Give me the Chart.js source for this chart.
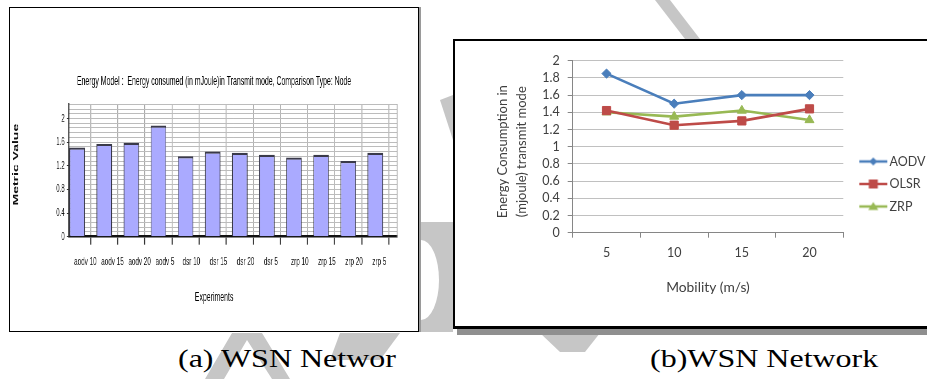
<!DOCTYPE html>
<html><head><meta charset="utf-8">
<script src="https://cdn.jsdelivr.net/npm/chart.js@4.4.1/dist/chart.umd.min.js"></script>
<style>
html,body{margin:0;padding:0;background:#fff;width:927px;height:379px;overflow:hidden;}
body{position:relative;}
.wm{position:absolute;left:0;top:0;width:927px;height:379px;background:#c6c6c6;}
#wmBox{position:absolute;left:421px;top:222px;width:32px;height:110px;background:#c6c6c6;overflow:hidden;}
#wmHole{position:absolute;left:-18px;top:18px;width:36px;height:80px;border-radius:50%;background:#fff;}
#frameA{position:absolute;left:9px;top:7px;width:408px;height:323px;border:1px solid #000;background:#fff;box-shadow:2px 0 0 #9a9a9a;overflow:hidden;}
#wrapA{position:absolute;left:0;top:0;width:742px;height:323px;transform:scaleX(0.55);transform-origin:0 0;}
#frameB{position:absolute;left:453px;top:39px;width:520px;height:285px;border-style:solid;border-color:#000;border-width:2px 2px 3px 2px;background:#fff;box-shadow:4px 6px 0 #8f8f8f;overflow:hidden;}
#cB{position:absolute;left:0;top:0;}
.cap{position:absolute;font-family:"Liberation Serif","Times New Roman",serif;font-weight:400;font-size:26px;line-height:26px;color:#000;white-space:nowrap;transform:scaleX(1.23);transform-origin:0 0;}
</style></head>
<body>
<div class="wm" style="clip-path:polygon(655px 0,670px 0,700px 39px,685px 39px);"></div>
<div class="wm" style="clip-path:polygon(440px 100px,453px 95px,453px 140px);"></div>
<div class="wm" style="clip-path:polygon(205px 379px,232px 333px,262px 333px,290px 379px,272px 379px,247px 340px,224px 379px);"></div>
<div class="wm" style="clip-path:polygon(340px 333px,400px 333px,380px 360px,330px 360px);"></div>
<div class="wm" style="clip-path:polygon(540px 333px,600px 333px,585px 352px,560px 352px);"></div>
<div id="wmBox"><div id="wmHole"></div></div>
<div id="frameA"><div id="wrapA"><canvas id="cA" width="742" height="323"></canvas></div></div>
<div id="frameB"><canvas id="cB" width="482" height="285"></canvas></div>
<div class="cap" style="left:178px;top:346px;">(a) WSN Networ</div>
<div class="cap" style="left:650px;top:346px;">(b)WSN Network</div>
<script>
// ---- Chart (a): bar chart data ----
const expLabels = ['aodv 10','aodv 15','aodv 20','aodv 5','dsr 10','dsr 15','dsr 20','dsr 5','zrp 10','zrp 15','zrp 20','zrp 5'];
const expValues = [1.51,1.57,1.59,1.88,1.36,1.44,1.42,1.385,1.34,1.385,1.28,1.42];
const aYTickLabels = ['0','0.4','0.8','1.2','1.6','2'];

// ---- Chart (b): line chart data ----
const mobility = ['5','10','15','20'];
const aodv = [1.85,1.50,1.60,1.60];
const olsr = [1.42,1.25,1.30,1.44];
const zrp  = [1.40,1.35,1.42,1.31];
const bYTickLabels = ['0','0.2','0.4','0.6','0.8','1','1.2','1.4','1.6','1.8','2'];

const expPoints = expValues.map((v,i)=>({x:i,y:v}));

new Chart(document.getElementById('cA'), {
  type:'bar',
  data:{datasets:[{
    data:expPoints,
    backgroundColor:'#aaaaff',
    borderColor:'#3a3a4a',
    borderWidth:{top:2.2,left:1.6,right:1.6,bottom:0},
    barPercentage:0.576,
    categoryPercentage:1
  }]},
  options:{
    responsive:false, animation:false,
    layout:{padding:{top:65.8,left:0,right:0,bottom:0}},
    plugins:{
      legend:{display:false}, tooltip:{enabled:false},
      title:{display:true,text:'Energy Model :  Energy consumed (in mJoule)in Transmit mode, Comparison Type: Node',
        color:'#000',font:{family:'Liberation Sans',size:12.6,weight:'normal',lineHeight:1.2},padding:{top:0,bottom:15.4}},
      subtitle:{display:true,position:'bottom',text:'Experiments',color:'#000',
        font:{family:'Liberation Sans',size:12.6,weight:'normal',lineHeight:1.2},padding:{top:0,bottom:26.4}}
    },
    scales:{
      x:{type:'linear',min:-0.3,max:11.8,offset:false,
        ticks:{stepSize:1,includeBounds:false,autoSkip:false,maxRotation:0,minRotation:0,align:'start',labelOffset:-5.5,padding:10,
          color:'#111',font:{family:'Liberation Sans',size:11.5},callback:(v)=>expLabels[v]!==undefined?expLabels[v]:''},
        grid:{color:'#aaaaaa',lineWidth:1.6,tickLength:8,tickColor:'#333',tickWidth:2},
        border:{color:'#111',width:2.6},
        afterFit:(s)=>{s.height=52.8;}
      },
      y:{min:0,max:2.24,
        ticks:{stepSize:0.08,autoSkip:false,padding:4,color:'#111',font:{family:'Liberation Sans',size:11},
          callback:(v,i)=>i%5===0?aYTickLabels[i/5]:''},
        grid:{color:'#bcbcbc',lineWidth:1,tickLength:4,tickColor:(c)=>c.index%5===0?'#333':'rgba(0,0,0,0)'},
        border:{color:'#333',width:2},
        title:{display:true,text:'   Metric Value',color:'#111',font:{family:'Liberation Sans',size:14,weight:'bold',lineHeight:1.2},padding:{top:2.5,bottom:0}},
        afterFit:(s)=>{s.width=107.3;}
      },
      yr:{position:'right',min:0,max:2.24,ticks:{display:false},grid:{drawOnChartArea:false,drawTicks:false},
        border:{color:'#aaaaaa',width:1.6},afterFit:(s)=>{s.width=38.4;}}
    }
  }
});

function makeIcon(color, shape){
  const c=document.createElement('canvas'); c.width=42; c.height=14;
  const g=c.getContext('2d');
  g.strokeStyle=color; g.fillStyle=color; g.lineWidth=2.5;
  g.beginPath(); g.moveTo(12,7); g.lineTo(40,7); g.stroke();
  const cx=26, cy=7;
  g.beginPath();
  if(shape==='diamond'){g.moveTo(cx,cy-4);g.lineTo(cx+4,cy);g.lineTo(cx,cy+4);g.lineTo(cx-4,cy);}
  else if(shape==='square'){g.rect(cx-4.5,cy-4.5,9,9);}
  else {g.moveTo(cx,cy-4.5);g.lineTo(cx+5,cy+3.5);g.lineTo(cx-5,cy+3.5);}
  g.closePath(); g.fill();
  return c;
}
const icons=[makeIcon('#4a7ebb','diamond'),makeIcon('#be4b48','square'),makeIcon('#98b954','triangle')];

const tickFont={family:'Lato',size:12.5};
new Chart(document.getElementById('cB'), {
  type:'line',
  data:{labels:mobility,datasets:[
    {label:'AODV',data:aodv,borderColor:'#4a7ebb',backgroundColor:'#4a7ebb',borderWidth:2.6,pointStyle:'rectRot',pointRadius:4.6,pointBorderWidth:1,tension:0},
    {label:'OLSR',data:olsr,borderColor:'#be4b48',backgroundColor:'#be4b48',borderWidth:2.6,pointStyle:'rect',pointRadius:5.8,pointBorderWidth:1,tension:0},
    {label:'ZRP',data:zrp,borderColor:'#98b954',backgroundColor:'#98b954',borderWidth:2.6,pointStyle:'triangle',pointRadius:5.2,pointBorderWidth:1,tension:0}
  ]},
  options:{
    responsive:false, animation:false,
    layout:{padding:{top:19.7,left:0,right:1.5,bottom:18.7}},
    plugins:{
      tooltip:{enabled:false},
      legend:{position:'right',align:'center',
        labels:{usePointStyle:true,pointStyleWidth:30,padding:10,color:'#404040',font:tickFont,
          generateLabels:(chart)=>chart.data.datasets.map((ds,i)=>({text:ds.label,fillStyle:ds.backgroundColor,strokeStyle:ds.borderColor,lineWidth:0,pointStyle:icons[i],hidden:false,datasetIndex:i,fontColor:'#404040'}))}}
    },
    scales:{
      x:{offset:true,
        grid:{offset:true,drawOnChartArea:false,tickLength:5,color:'#868686'},
        border:{color:'#868686',width:1},
        ticks:{padding:7.8,color:'#404040',font:tickFont},
        title:{display:true,text:'Mobility (m/s)',color:'#404040',font:{family:'Lato',size:13.8,lineHeight:1.2},padding:{top:0,bottom:11}},
        afterFit:(s)=>{s.height=74.6;}
      },
      y:{min:0,max:2,
        ticks:{stepSize:0.2,autoSkip:false,padding:8,color:'#404040',font:tickFont,callback:(v,i)=>bYTickLabels[i]},
        grid:{color:'#c0c0c0',tickLength:5,tickColor:'#868686'},
        border:{color:'#868686',width:1},
        title:{display:true,text:['Energy Consumption in   ','(mjoule) transmit mode   '],color:'#404040',font:{family:'Lato',size:13,lineHeight:1.45},padding:{top:38.6,bottom:0}},
        afterFit:(s)=>{s.width=117.7;}
      }
    }
  }
});
</script>
</body></html>
